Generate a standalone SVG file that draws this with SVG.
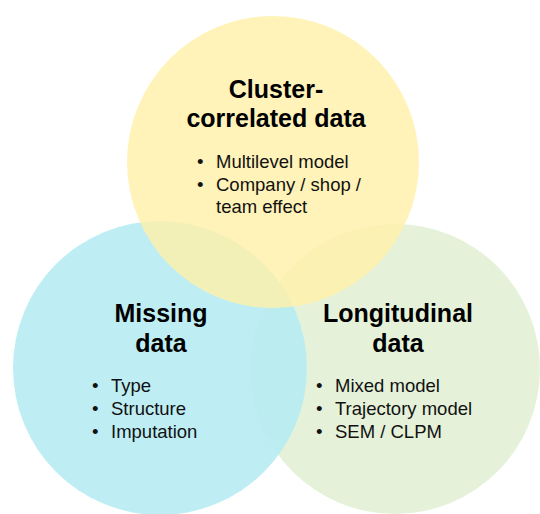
<svg xmlns="http://www.w3.org/2000/svg" width="540" height="514" viewBox="0 0 540 514">
<style>
.title{font-family:"Liberation Sans",Arial,sans-serif;font-weight:bold;font-size:25px;fill:#000;text-anchor:middle}
.item{font-family:"Liberation Sans",Arial,sans-serif;font-size:18.5px;fill:#111}
</style>
<rect width="540" height="514" fill="#fff"/>
<g id="longitudinal">
<circle cx="395" cy="369" r="145" fill="#E5F2D9"/>
</g>
<g id="missing">
<circle cx="160" cy="368" r="147" fill="#B5ECF2" fill-opacity="0.88"/>
</g>
<g id="cluster">
<circle cx="273" cy="162" r="146" fill="#FFF0AA" fill-opacity="0.82"/>
</g>
<g id="cluster-text">
<text class="title" x="276" y="98">Cluster-</text>
<text class="title" x="276" y="127">correlated data</text>
<text class="item" x="197" y="168">•</text><text class="item" x="216" y="168">Multilevel model</text>
<text class="item" x="197" y="191">•</text><text class="item" x="216" y="191">Company / shop /</text>
<text class="item" x="216" y="213">team effect</text>
</g>
<g id="missing-text">
<text class="title" x="161" y="322">Missing</text>
<text class="title" x="161" y="352">data</text>
<text class="item" x="92" y="392">•</text><text class="item" x="111" y="392">Type</text>
<text class="item" x="92" y="415">•</text><text class="item" x="111" y="415">Structure</text>
<text class="item" x="92" y="438">•</text><text class="item" x="111" y="438">Imputation</text>
</g>
<g id="longitudinal-text">
<text class="title" x="398" y="322">Longitudinal</text>
<text class="title" x="398" y="352">data</text>
<text class="item" x="316" y="392">•</text><text class="item" x="335" y="392">Mixed model</text>
<text class="item" x="316" y="415">•</text><text class="item" x="335" y="415">Trajectory model</text>
<text class="item" x="316" y="438">•</text><text class="item" x="335" y="438">SEM / CLPM</text>
</g>
<g id="connectors"/>
</svg>
